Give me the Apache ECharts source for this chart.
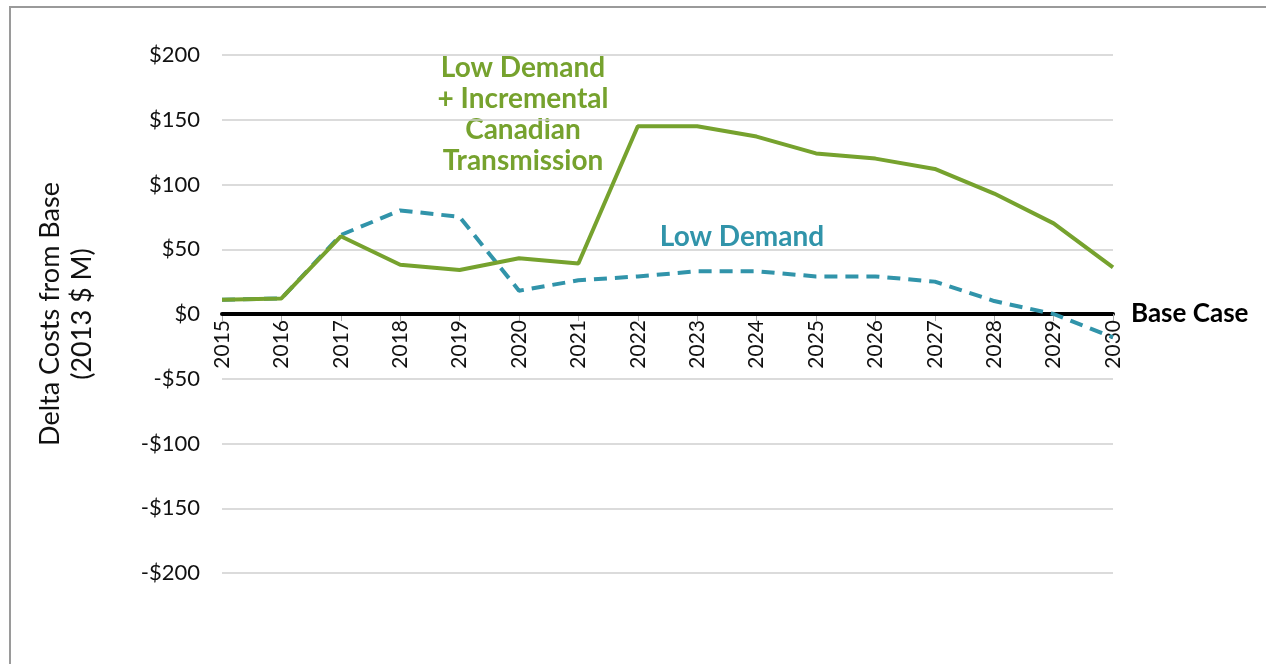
<!DOCTYPE html>
<html>
<head>
<meta charset="UTF-8">
<title>Delta Costs from Base</title>
<style>
body { padding:0; border:0; margin:0; background:#fff; }
</style>
<script src="https://cdn.jsdelivr.net/npm/echarts@6/dist/echarts.min.js"></script>
</head>
<body>
<div id="main" style="width:1266px;height:664px;"></div>
<script>
// 年份
var years = ['2015','2016','2017','2018','2019','2020','2021','2022','2023','2024','2025','2026','2027','2028','2029','2030'];
// Low Demand + Incremental Canadian Transmission
var lowDemandCanTx = [11, 12, 60, 38, 34, 43, 39, 145, 145, 137, 124, 120, 112, 93, 70, 36];
// Low Demand
var lowDemand = [11, 12, 61, 80, 75, 18, 26, 29, 33, 33, 29, 29, 25, 10, 0, -18];
// Base Case（零线）
var baseCase = years.map(function () { return 0; });
var yTicks = [-200, -150, -100, -50, 0, 50, 100, 150, 200];

var green = '#76a22e';
var blue = '#3194aa';
var font = 'Lato, "Open Sans", sans-serif';

var gridTop = 55, gridBottom = 91, chartH = 664;

var myChart = echarts.init(document.getElementById('main'));
// 零线到网格底部的距离，用来把x轴挪到0的位置
var plotH = chartH - gridTop - gridBottom;
var zeroShift = plotH * (0 - yTicks[0]) / (yTicks[yTicks.length - 1] - yTicks[0]);

var option = {
    animation: false,
    backgroundColor: '#fff',
    grid: { left: 222, right: 153, top: gridTop, bottom: gridBottom },
    xAxis: {
        type: 'category',
        data: years,
        boundaryGap: false,
        offset: -zeroShift,
        axisLine: { onZero: false, lineStyle: { color: '#000', width: 4 } },
        axisTick: { show: true, length: 7, lineStyle: { color: '#aaa', width: 1 } },
        axisLabel: { rotate: 90, fontSize: 21, color: '#111', fontFamily: font, margin: 6 },
        splitLine: { show: false },
        z: 1
    },
    yAxis: {
        type: 'value',
        min: yTicks[0],
        max: yTicks[yTicks.length - 1],
        interval: 50,
        axisLine: { show: false },
        axisTick: { show: false },
        axisLabel: {
            fontSize: 22, color: '#111', fontFamily: font, margin: 22,
            formatter: function (v) { return (v < 0 ? '-$' : '$') + Math.abs(v); }
        },
        splitLine: { lineStyle: { color: '#cfcfcf', width: 1.5 } },
        name: 'Delta Costs from Base\n(2013 $ M)',
        nameLocation: 'middle',
        nameGap: 124,
        nameRotate: 90,
        nameTextStyle: { fontSize: 27, color: '#111', fontFamily: font, lineHeight: 32 }
    },
    series: [
        {
            name: 'Base Case',
            type: 'line',
            data: baseCase,
            symbol: 'none',
            lineStyle: { color: '#000', width: 4 },
            z: 2
        },
        {
            name: 'Low Demand',
            type: 'line',
            data: lowDemand,
            symbol: 'none',
            lineStyle: { color: blue, width: 4, type: [13, 8] },
            z: 3
        },
        {
            name: 'Low Demand + Incremental Canadian Transmission',
            type: 'line',
            data: lowDemandCanTx,
            symbol: 'none',
            lineStyle: { color: green, width: 4 },
            z: 4
        }
    ],
    graphic: [
        {
            type: 'rect',
            shape: { x: 10, y: 7, width: 1300, height: 700 },
            style: { fill: 'none', stroke: '#9a9a9a', lineWidth: 2 },
            silent: true
        },
        {
            type: 'text', x: 523, y: 52,
            style: {
                text: 'Low Demand\n+ Incremental\nCanadian\nTransmission',
                fill: green, font: 'bold 28px ' + font, align: 'center', lineHeight: 31
            }
        },
        {
            type: 'text', x: 742, y: 237,
            style: { text: 'Low Demand', fill: blue, font: 'bold 28px ' + font, align: 'center', verticalAlign: 'middle' }
        },
        {
            type: 'text', x: 1131, y: 314,
            style: { text: 'Base Case', fill: '#000', font: 'bold 26px ' + font, verticalAlign: 'middle' }
        }
    ]
};
myChart.setOption(option);
</script>
</body>
</html>
